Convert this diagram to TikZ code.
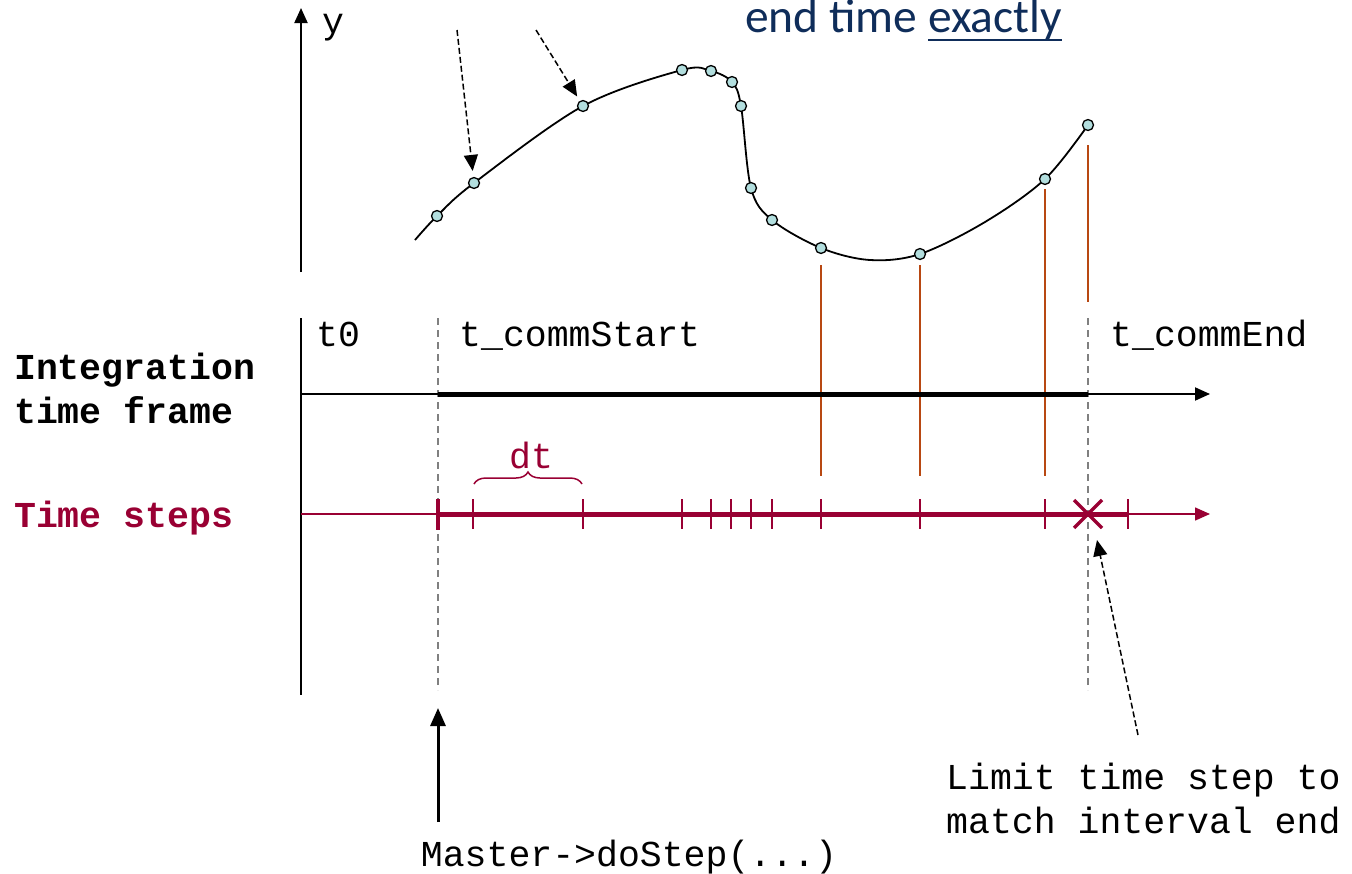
\documentclass[tikz,border=0pt]{standalone}
\usepackage{fontspec}
\usetikzlibrary{arrows.meta,decorations.pathreplacing}
\newfontfamily\monof{Liberation Mono}
\newfontfamily\calib{Carlito}
\definecolor{stepred}{RGB}{153,0,51}
\definecolor{brownl}{RGB}{184,72,18}
\definecolor{navy}{RGB}{15,45,90}
\definecolor{ptfill}{RGB}{178,222,222}
\tikzset{
  mono/.style={font=\monof\fontsize{36.5}{44}\selectfont, inner sep=0pt},
  monob/.style={font=\monof\bfseries\fontsize{36.5}{44}\selectfont, inner sep=0pt},
  pt/.style={circle, draw=black, fill=ptfill, line width=1.3pt, inner sep=0pt, minimum size=11pt},
  axis/.style={line width=2pt},
  tip/.style={-{Triangle[length=15pt,width=13pt]}},
  gdash/.style={gray, line width=1.5pt, dash pattern=on 7pt off 5pt},
  brn/.style={brownl, line width=2pt},
  tick/.style={stepred, line width=1.5pt},
  dasharrow/.style={line width=1.5pt, dash pattern=on 6pt off 3pt, -{Triangle[length=16pt,width=14pt]}},
}
\begin{document}
\begin{tikzpicture}[x=1pt,y=-1pt]
\useasboundingbox (0,0) rectangle (1352,873);
% title
\node[anchor=base west, inner sep=0pt, text=navy, font=\calib\fontsize{47.5}{56}\selectfont] (title) at (745,32.5)
  {end time \setbox0\hbox{exactly}\rlap{\rule[-8.5pt]{\wd0}{2.5pt}}\box0};
% y axis
\coordinate (ybot) at (301,272);
\coordinate (ytop) at (301,8);
\draw[axis,tip] (ybot) -- (ytop);
\node[mono, anchor=base west] (ylab) at (322,33) {y};
% curve
\coordinate (c0) at (415,240);
\coordinate (q1) at (437,216);
\coordinate (q2) at (474,183);
\coordinate (q3) at (583,106);
\coordinate (q4) at (682,70);
\coordinate (q5) at (711,71);
\coordinate (q6) at (732,82);
\coordinate (q7) at (741,106);
\coordinate (q8) at (751,188);
\coordinate (q9) at (772,220);
\coordinate (q10) at (821,248);
\coordinate (m1) at (870,260);
\coordinate (q11) at (920,254);
\coordinate (m2) at (985,222);
\coordinate (q12) at (1045,179);
\coordinate (q13) at (1088,125);
\draw[line width=1.8pt] plot[smooth, tension=0.55] coordinates {(c0) (q1) (q2) (q3) (q4) (q5) (q6) (q7) (q8) (q9) (q10) (m1) (q11) (m2) (q12) (q13)};
% brown lines
\draw[brn] (821,265) -- (821,476);
\draw[brn] (920,265) -- (920,476);
\draw[brn] (1045,189) -- (1045,476);
\draw[brn] (1088,145) -- (1088,302);
% points
\foreach \i in {1,...,13} { \node[pt] (p\i) at (q\i) {}; }
% dashed arrows top
\coordinate (a1) at (457,30);
\coordinate (a2) at (536,30);
\draw[dasharrow, shorten >=6pt] (a1) -- (p2);
\draw[dasharrow, shorten >=5pt] (a2) -- (p3);
% time axis vertical
\coordinate (tvtop) at (301,318);
\coordinate (tvbot) at (301,695);
\draw[axis] (tvtop) -- (tvbot);
% dashed verticals
\coordinate (d1t) at (438,318);
\coordinate (d1b) at (438,690);
\coordinate (d2t) at (1088,318);
\coordinate (d2b) at (1088,690);
\draw[gdash] (d1t) -- (d1b);
\draw[gdash] (d2t) -- (d2b);
% integration time frame
\coordinate (ia) at (301,394);
\coordinate (ib) at (1210,394);
\draw[axis,tip] (ia) -- (ib);
\draw[line width=5pt] (438,394) -- (1088,394);
% time steps
\coordinate (sa) at (301,514);
\coordinate (sb) at (1210,514);
\draw[stepred, line width=1.5pt, tip] (sa) -- (sb);
\draw[stepred, line width=5pt] (438,514) -- (1128,514);
\draw[stepred, line width=4pt] (438,499) -- (438,530);
\foreach \x in {473,583,682,711,731,751,772,821,920,1045,1128} {
  \draw[tick] (\x,499) -- (\x,529);
}
\draw[stepred, line width=3.5pt] (1074,500) -- (1102,528) (1074,528) -- (1102,500);
% brace dt
\draw[stepred, line width=1.5pt, decorate, decoration={brace, amplitude=12pt}] (474,484) -- (582,484);
\node[mono, anchor=base, text=stepred] (dt) at (531,468) {dt};
% labels
\node[mono, anchor=base west] (t0) at (316,346) {t0};
\node[mono, anchor=base west] (tcs) at (459,346) {t\_commStart};
\node[mono, anchor=base west] (tce) at (1110,346) {t\_commEnd};
\node[monob, anchor=base west] (lab1) at (14,379) {Integration};
\node[monob, anchor=base west] (lab2) at (14,423) {time frame};
\node[monob, anchor=base west, text=stepred] (lab3) at (14,527) {Time steps};
% bottom arrows
\coordinate (ma) at (438,822);
\coordinate (mb) at (438,708);
\draw[line width=3pt, -{Triangle[length=18pt,width=15pt]}] (ma) -- (mb);
\node[mono, anchor=base] (master) at (629,866) {Master->doStep(...)};
\coordinate (la) at (1138,735);
\coordinate (lb) at (1097,540);
\draw[dasharrow] (la) -- (lb);
\node[mono, anchor=base west] (lim1) at (946,789) {Limit time step to};
\node[mono, anchor=base west] (lim2) at (946,833) {match interval end};
\end{tikzpicture}
\end{document}
